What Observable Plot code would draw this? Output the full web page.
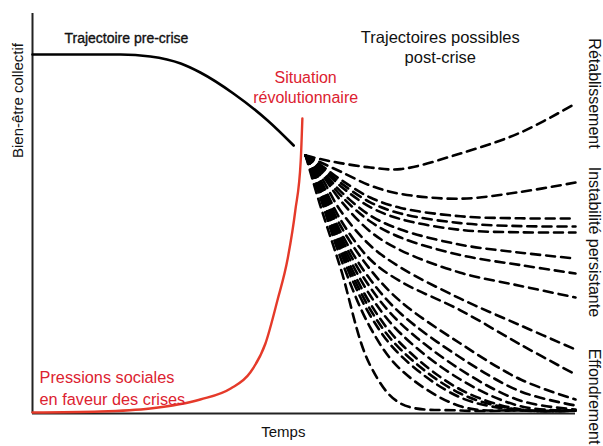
<!DOCTYPE html>
<html>
<head>
<meta charset="utf-8">
<script src="https://cdn.jsdelivr.net/npm/d3@7"></script>
<script src="https://cdn.jsdelivr.net/npm/@observablehq/plot@0.6"></script>
<style>
  html, body { margin: 0; padding: 0; background: #fff; }
  #chart svg { display: block; font-family: "Liberation Sans", Arial, sans-serif; }
</style>
</head>
<body>
<div id="chart"></div>
<script>
// Time runs 0–100 left to right; collective well-being 0–100 bottom to top.

// Pre-crisis trajectory of collective well-being
const preTime = [0, 16.2, 21.7, 27.3, 30.9, 37.0, 43.3, 48.1];
const preWellBeing = [89.75, 89.75, 89.25, 87.5, 85.25, 80, 73.25, 67];

// Social pressure building towards the crisis
const pressureTime = [0, 12.5, 21.7, 30.9, 36.5, 40.1, 42.9, 45.1, 47.0, 48.4, 49.4, 49.7];
const pressureLevel = [0.25, 0.5, 1.25, 3.5, 6.25, 10.25, 17.5, 28.25, 38.75, 50.75, 63.25, 73.75];

// Possible post-crisis trajectories, sampled at the same instants
const fanTimes = [50.3, 53, 56.7, 62.2, 67.8, 78.8, 89.9, 100];
const postCrisisPaths = [
  [64.5, 63.6, 62.6, 61.5, 61.1, 65, 70.25, 77.5],     // rétablissement
  [64.5, 62.8, 60.5, 57, 54.9, 53.7, 55.4, 57.75],
  [64.5, 62.2, 58.5, 54, 51.4, 49.3, 48.8, 48.75],     // instabilité persistante
  [64.5, 61.9, 57.7, 52.8, 50, 47.6, 46.85, 46.75],
  [64.5, 61.6, 56.9, 51.6, 48.6, 45.9, 45.3, 45.25],
  [64.5, 61.2, 55.6, 49.5, 46, 42.2, 40.2, 38.75],
  [64.5, 60.8, 54.6, 48, 44, 39.6, 37.1, 35],
  [64.5, 60.3, 53.3, 45.5, 40.8, 35.2, 31.9, 29],
  [64.5, 59.5, 50.75, 42, 36.5, 28.7, 22, 16],
  [64.5, 58.5, 48.5, 38.5, 33, 25.8, 17.2, 9.75],
  [64.5, 58, 47, 36, 28, 17.5, 8.5, 3.5],               // effondrement
  [64.5, 57.5, 45.5, 33.5, 25, 14, 5.5, 2],
  [64.5, 57, 44.5, 31.5, 22.5, 11, 3.2, 1],
  [64.5, 56.5, 43.5, 29.5, 20, 8.5, 1.8, 0.75],
  [64.5, 56, 42.5, 27.5, 17.5, 6, 1, 0.75],
  [64.5, 55.5, 41.5, 26, 16, 5, 0.9, 0.75],
  [64.5, 55, 40.5, 24.5, 14.5, 4, 0.8, 0.75],
  [64.5, 54, 39, 21.5, 11, 1.8, 0.75, 0.75],
  [64.5, 52, 36.5, 12, 2.5, 0.75, 0.75, 0.75]
];

// Outcome labels along the right edge
const outcomeLabels = ["Rétablissement", "Instabilité persistante", "Effondrement"];
const outcomeLevels = [80, 42.9, 4.25];

const pre = preTime.map((t, i) => ({t, w: preWellBeing[i]}));
const pressure = pressureTime.map((t, i) => ({t, w: pressureLevel[i]}));
const post = postCrisisPaths.flatMap((vals, path) =>
  vals.map((w, j) => ({path, t: fanTimes[j], w}))
);
const outcomes = outcomeLabels.map((label, i) => ({label, w: outcomeLevels[i]}));

const red = "#e53a2a";
const redText = "#dc2230";
const font = "Liberation Sans, Arial, sans-serif";

const chart = Plot.plot({
  width: 603,
  height: 446,
  marginLeft: 32,
  marginRight: 28,
  marginTop: 13,
  marginBottom: 33,
  style: {fontFamily: font, background: "#fff", overflow: "visible"},
  x: {domain: [0, 100], axis: null},
  y: {domain: [0, 100], axis: null},
  marks: [
    // post-crisis fan
    Plot.line(post, {
      x: "t", y: "w", z: "path",
      stroke: "#000", strokeWidth: 2.6, strokeDasharray: "9,6",
      curve: "catmull-rom"
    }),
    // axes
    Plot.ruleX([0], {stroke: "#222", strokeWidth: 2}),
    Plot.ruleY([0], {stroke: "#222", strokeWidth: 2}),
    // pre-crisis trajectory
    Plot.line(pre, {x: "t", y: "w", stroke: "#000", strokeWidth: 2.6, curve: "monotone-x"}),
    // social pressure
    Plot.line(pressure, {x: "t", y: "w", stroke: red, strokeWidth: 2.4, curve: "monotone-x"}),
    // annotations
    Plot.text(["Trajectoire pre-crise"], {
      x: 17.3, y: 93.75, text: d => d, fontSize: 14, fill: "#111",
      stroke: "#111", strokeWidth: 0.35
    }),
    Plot.text(["Trajectoires possibles\npost-crise"], {
      x: 75.1, y: 91.75, text: d => d, fontSize: 16.5, lineHeight: 1.21, fill: "#111"
    }),
    Plot.text(["Situation\nrévolutionnaire"], {
      x: 50.3, y: 81.8, text: d => d, fontSize: 16, lineHeight: 1.3, fill: redText
    }),
    Plot.text(["Pressions sociales\nen faveur des crises"], {
      x: 1.3, y: 6.75, text: d => d, fontSize: 16.3, lineHeight: 1.35, fill: redText, textAnchor: "start"
    }),
    Plot.text(["Temps"], {x: 46.2, y: -4.75, text: d => d, fontSize: 15, fill: "#111"}),
    Plot.text(["Bien-être collectif"], {
      x: -2.6, y: 78.25, text: d => d, fontSize: 15, rotate: -90, fill: "#111"
    }),
    Plot.text(outcomes, {
      x: 103.5, y: "w", text: "label", fontSize: 16, rotate: 90, fill: "#111"
    })
  ]
});

document.getElementById("chart").appendChild(chart);
</script>
</body>
</html>
